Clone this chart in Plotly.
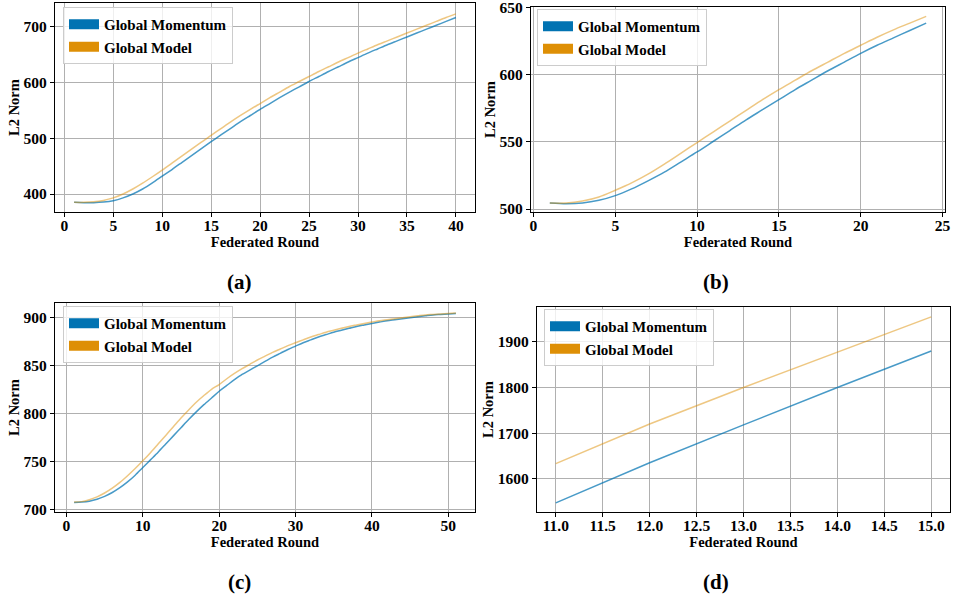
import plotly.graph_objects as go

# ---------------- data ----------------
rounds_a = list(range(1, 41))
momentum_a = [385, 384.5, 384.5, 385.5, 388, 393, 400, 409, 420, 432,
              444, 456.5, 469, 481.5, 494, 506, 518, 530, 541, 552,
              562.5, 573, 583, 592.5, 602, 611, 620, 628.5, 637, 645,
              653, 660.5, 668, 675, 682, 689, 696, 703, 710, 717]
model_a = [385, 385, 386, 388.5, 393, 400, 409, 419.5, 431, 443,
           455.5, 468, 480.5, 493, 505.5, 517.5, 529.5, 541, 552, 562.5,
           573, 583, 593, 602, 611, 620, 628.5, 637, 645, 653,
           660.5, 668, 675, 682, 689, 696, 703, 710, 717, 723.5]

rounds_b = list(range(1, 25))
momentum_b = [504.5, 504, 504.5, 506.5, 510, 515, 521, 527.5, 535, 542.5,
              550.5, 558.5, 566.5, 574, 581.5, 589, 596, 603, 609.5, 616,
              622, 627.5, 633, 638.5]
model_b = [504.5, 504.5, 506, 509, 514, 519.5, 526, 533.5, 541.5, 549.5,
           557.5, 565.5, 573.5, 581.5, 589, 596, 603, 609.5, 616, 622,
           628, 633.5, 638.5, 643.5]

rounds_c = list(range(1, 52))
momentum_c = [707, 707.5, 708.5, 710.5, 713.5, 717.5, 722.5, 728.5, 735.5, 743.5,
              751.5, 759.5, 768, 776.5, 785, 793.5, 801.5, 809, 816, 823,
              829, 835, 840.5, 845, 849.5, 854, 858.5, 862.5, 866.5, 870,
              873.5, 876.5, 879.5, 882, 884.5, 886.5, 888.5, 890.5, 892, 893.5,
              895, 896.5, 897.5, 898.5, 899.5, 900.5, 901.5, 902.5, 903, 903.5, 904]
model_c = [707.5, 708, 710, 713, 717, 722, 728, 735, 742.5, 750.5,
           759, 768, 777, 786, 795, 803.5, 811.5, 818.5, 825, 830,
           836, 841.5, 846.5, 851, 855.5, 859.5, 863.5, 867, 870.5, 873.5,
           876.5, 879.5, 882, 884.5, 886.5, 888.5, 890.5, 892, 893.5, 895,
           896.5, 897.5, 898.5, 899.5, 900.5, 901.5, 902.5, 903, 903.5, 904, 904.5]

rounds_d = [11, 12, 13, 14, 15]
momentum_d = [1547, 1635, 1718, 1800, 1880]
model_d = [1633, 1720, 1800, 1878, 1955]

series_names = ["Global Momentum", "Global Model"]
panel_labels = ["(a)", "(b)", "(c)", "(d)"]

# ---------------- styling ----------------
FONT = "Liberation Serif, Times New Roman, serif"
patch_colors = ["#0173b2", "#de8f05"]
line_colors = ["rgba(1,115,178,0.72)", "rgba(222,143,5,0.5)"]

W, H = 953, 598

def px_x(a, b):
    return [a / W, b / W]

def px_y(top, bottom):
    return [1 - bottom / H, 1 - top / H]

panels = [
    dict(x=rounds_a, s=[momentum_a, model_a], xd=px_x(55, 475), yd=px_y(3, 212),
         xr=[-0.95, 41.95], yr=[367.7, 743], xt=5, yt=100, xfmt="d",
         leg=(63, 7), lab=(240, 282), shape="spline"),
    dict(x=rounds_b, s=[momentum_b, model_b], xd=px_x(531, 945), yd=px_y(7, 212),
         xr=[-0.15, 25.15], yr=[497.8, 650.5], xt=5, yt=50, xfmt="d",
         leg=(537, 9), lab=(716, 282), shape="spline"),
    dict(x=rounds_c, s=[momentum_c, model_c], xd=px_x(55, 475), yd=px_y(303, 512),
         xr=[-1.5, 53.5], yr=[697.2, 914.9], xt=10, yt=50, xfmt="d",
         leg=(63, 306), lab=(240, 582), shape="spline"),
    dict(x=rounds_d, s=[momentum_d, model_d], xd=px_x(537, 950), yd=px_y(307, 512),
         xr=[10.8, 15.2], yr=[1527, 1976.6], xt=0.5, yt=100, xfmt=".1f",
         leg=(544, 309), lab=(716, 582), shape="linear"),
]

fig = go.Figure()
layout = dict(
    width=W, height=H,
    margin=dict(l=0, r=0, t=0, b=0, autoexpand=False),
    paper_bgcolor="white", plot_bgcolor="white",
    font=dict(family=FONT, size=14, color="black"),
    annotations=[],
)

for i, p in enumerate(panels):
    n = i + 1
    xa = "x" if n == 1 else f"x{n}"
    ya = "y" if n == 1 else f"y{n}"
    lg = "legend" if n == 1 else f"legend{n}"
    for k in range(2):
        fig.add_trace(go.Scatter(
            x=p["x"], y=p["s"][k], mode="lines",
            line=dict(color=line_colors[k], width=1.5, shape=p["shape"], smoothing=0.8),
            xaxis=xa, yaxis=ya, showlegend=False, hoverinfo="skip"))
    for k in range(2):
        fig.add_trace(go.Scatter(
            x=[None], y=[None], mode="lines", name=series_names[k],
            line=dict(color=patch_colors[k], width=10),
            xaxis=xa, yaxis=ya, legend=lg, showlegend=True))
    axis_common = dict(
        showline=True, linecolor="black", linewidth=1.2, mirror=True,
        ticks="outside", ticklen=4, tickcolor="black", tickwidth=1,
        showgrid=True, gridcolor="#b0b0b0", gridwidth=1, zeroline=False,
        ticklabeloverflow="allow",
        tickfont=dict(family=FONT, size=15.5, color="black", weight="bold"),
    )
    layout["xaxis" if n == 1 else f"xaxis{n}"] = dict(
        axis_common, domain=p["xd"], range=p["xr"], anchor=ya,
        tick0=0, dtick=p["xt"], tickformat=p["xfmt"], ticklabelstandoff=-5,
        title=dict(text="Federated Round",
                   font=dict(family=FONT, size=14.5, weight="bold"), standoff=0))
    layout["yaxis" if n == 1 else f"yaxis{n}"] = dict(
        axis_common, domain=p["yd"], range=p["yr"], anchor=xa,
        tick0=0, dtick=p["yt"],
        title=dict(text="L2 Norm",
                   font=dict(family=FONT, size=14.5, weight="bold"), standoff=0))
    layout[lg] = dict(
        x=p["leg"][0] / W, y=1 - p["leg"][1] / H, xanchor="left", yanchor="top",
        xref="paper", yref="paper",
        bgcolor="rgba(255,255,255,0.8)", bordercolor="#cccccc", borderwidth=1,
        font=dict(family=FONT, size=15, color="black", weight="bold"),
        itemwidth=30, tracegroupgap=0)
    layout["annotations"].append(dict(
        text=panel_labels[i], x=p["lab"][0] / W, y=1 - p["lab"][1] / H,
        xref="paper", yref="paper", xanchor="center", yanchor="middle",
        showarrow=False, font=dict(family=FONT, size=21, color="black", weight="bold")))

fig.update_layout(**layout)

fig.write_html("out.html", config={"displayModeBar": False},
               post_script="document.body.style.margin='0';")
